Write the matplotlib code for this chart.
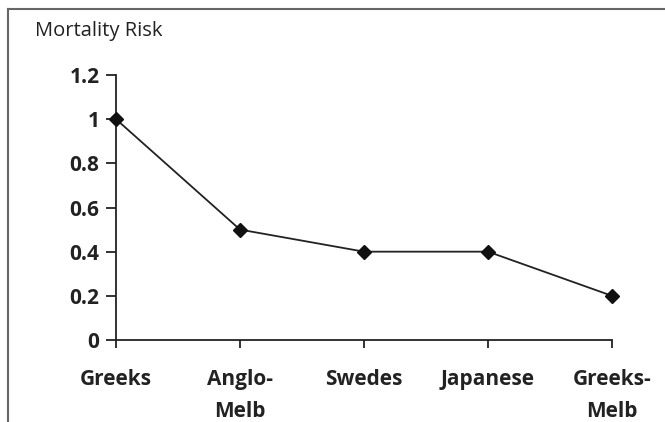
import matplotlib.pyplot as plt
from matplotlib.lines import Line2D

groups = ['Greeks', 'Anglo-\nMelb', 'Swedes', 'Japanese', 'Greeks-\nMelb']
risk = [1.0, 0.5, 0.4, 0.4, 0.2]
yticks = [0, 0.2, 0.4, 0.6, 0.8, 1, 1.2]
ylabels = ['0', '0.2', '0.4', '0.6', '0.8', '1', '1.2']

plt.rcParams['font.family'] = ['Open Sans', 'DejaVu Sans']

fig = plt.figure(figsize=(6.65, 4.22), dpi=100)
ax = fig.add_axes([116/665, 1-340/422, (612-116)/665, (340-75)/422])

x = list(range(len(groups)))
ax.plot(x, risk, color='#222222', lw=1.3, marker='D', markersize=7.5,
        markerfacecolor='#111111', markeredgecolor='#111111', clip_on=False, zorder=3)

ax.set_xlim(0, len(groups) - 1)
ax.set_ylim(0, 1.2)
ax.set_yticks(yticks)
ax.set_yticklabels(ylabels, fontsize=15, fontweight='bold')
ax.set_xticks(x)
ax.set_xticklabels(groups, fontsize=15, fontweight='bold', linespacing=1.65)
ax.tick_params(axis='y', direction='out', length=7, width=1.3, pad=5, colors='#222222')
ax.tick_params(axis='x', direction='out', length=6, width=1.3, pad=15, colors='#222222')
for lbl in ax.get_xticklabels():
    lbl.set_verticalalignment('top')

for s in ['top', 'right']:
    ax.spines[s].set_visible(False)
for s in ['left', 'bottom']:
    ax.spines[s].set_linewidth(1.3)
    ax.spines[s].set_color('#222222')

fig.text(35/665, 1-31/422, 'Mortality Risk', fontsize=14.5, color='#222222', va='center', ha='left')

# outer frame (top and left edges only)
fig.add_artist(Line2D([8/665, 1], [1-9/422, 1-9/422], transform=fig.transFigure, color='#666666', lw=1.5))
fig.add_artist(Line2D([8/665, 8/665], [0, 1-9/422], transform=fig.transFigure, color='#666666', lw=1.5))

fig.savefig('out.png', dpi=100)
